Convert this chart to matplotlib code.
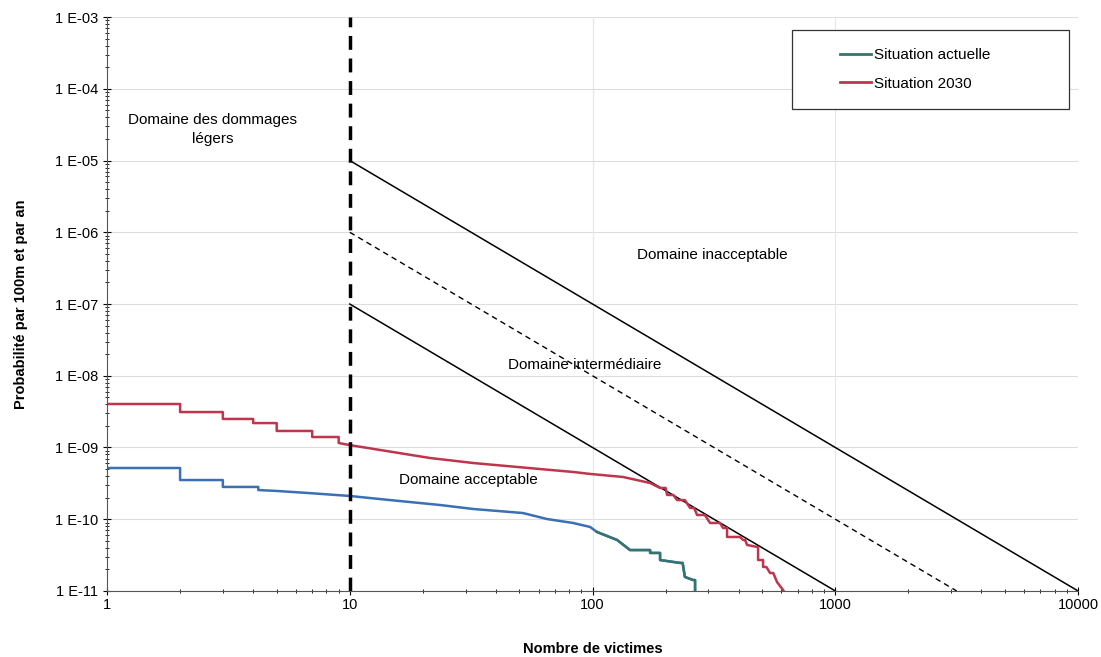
import matplotlib
matplotlib.use("Agg")
import matplotlib.pyplot as plt
from matplotlib.patches import Rectangle
from matplotlib.ticker import FixedLocator, LogLocator, NullFormatter

plt.rcParams['font.family'] = ['Liberation Sans', 'DejaVu Sans']

# courbes F-N : sommets (nombre de victimes, probabilite)
actuelle_x = [1, 2, 2, 3, 3, 4.2, 4.2, 5, 7, 10, 14.65, 23.5, 32.2, 51.7, 64.9, 83.1,
              97.7, 104.3, 126.2, 142.7, 172.6, 172.6, 189.7, 189.7, 229.3, 235,
              240, 259.4, 264.4, 264.4]
actuelle_y = [5.18e-10, 5.18e-10, 3.52e-10, 3.52e-10, 2.82e-10, 2.82e-10, 2.55e-10,
              2.48e-10, 2.3e-10, 2.11e-10, 1.85e-10, 1.58e-10, 1.39e-10, 1.22e-10,
              1.007e-10, 8.87e-11, 7.8e-11, 6.64e-11, 5.14e-11, 3.72e-11, 3.72e-11,
              3.39e-11, 3.39e-11, 2.70e-11, 2.46e-11, 2.46e-11, 1.57e-11, 1.42e-11,
              1.42e-11, 1e-11]

s2030_x = [1, 2, 2, 3, 3, 4, 4, 5, 5, 7, 7, 9, 9, 10, 21.4, 32.2, 60.8, 83.1, 97.7,
           133.6, 172.6, 189.7, 200, 202.8, 215, 222.9, 240, 252.2, 262, 269.5, 290,
           304.8, 335, 344.8, 358.1, 358.1, 405, 416.9, 425, 433, 478, 480.6, 480.6,
           504, 504, 520, 538.5, 555, 575.4, 609.2, 612]
s2030_y = [4.04e-9, 4.04e-9, 3.12e-9, 3.12e-9, 2.50e-9, 2.50e-9, 2.19e-9, 2.19e-9,
           1.70e-9, 1.70e-9, 1.40e-9, 1.40e-9, 1.156e-9, 1.08e-9, 7.14e-10, 6.08e-10,
           5.01e-10, 4.56e-10, 4.28e-10, 3.88e-10, 3.20e-10, 2.73e-10, 2.73e-10,
           2.18e-10, 2.18e-10, 1.85e-10, 1.85e-10, 1.435e-10, 1.435e-10, 1.146e-10,
           1.146e-10, 8.87e-11, 8.87e-11, 7.55e-11, 7.55e-11, 5.66e-11, 5.66e-11,
           5.14e-11, 5.14e-11, 4.38e-11, 4.10e-11, 4.10e-11, 2.70e-11, 2.70e-11,
           2.16e-11, 2.16e-11, 1.78e-11, 1.78e-11, 1.33e-11, 1.03e-11, 1e-11]

# limites des domaines (pente -2)
lim_sup_x = [10, 10000]
lim_sup_y = [1e-5, 1e-11]
lim_mid_x = [10, 3162]
lim_mid_y = [1e-6, 1e-11]
lim_inf_x = [10, 1000]
lim_inf_y = [1e-7, 1e-11]

xticks = [1, 10, 100, 1000, 10000]
xlabels = ["1", "10", "100", "1000", "10000"]
yticks = [1e-11, 1e-10, 1e-9, 1e-8, 1e-7, 1e-6, 1e-5, 1e-4, 1e-3]
ylabels = ["1 E-11", "1 E-10", "1 E-09", "1 E-08", "1 E-07", "1 E-06",
           "1 E-05", "1 E-04", "1 E-03"]

fig = plt.figure(figsize=(11.01, 6.57), dpi=100)
ax = fig.add_axes([0.0972, 0.1005, 0.882, 0.8735])
ax.set_xscale('log')
ax.set_yscale('log')
ax.set_xlim(1, 10000)
ax.set_ylim(1e-11, 1e-3)

for t in yticks:
    ax.axhline(t, color='#dddddd', lw=0.8, zorder=0)
for t in [100, 1000]:
    ax.axvline(t, color='#e6e6e6', lw=0.8, zorder=0)

ax.plot(lim_sup_x, lim_sup_y, color='black', lw=1.1)
ax.plot(lim_mid_x, lim_mid_y, color='black', lw=1.0, ls=(0, (4, 3)))
ax.plot(lim_inf_x, lim_inf_y, color='black', lw=1.1)
ax.plot([10, 10], [1e-11, 1e-3], color='black', lw=2.5, ls=(0, (4, 2.5)), zorder=5)

ax.plot(actuelle_x, actuelle_y, color='#3a70b4', lw=1.8)
n0 = actuelle_x.index(104.3)
ax.plot(actuelle_x[n0:], actuelle_y[n0:], color='#357370', lw=1.8)
ax.plot(s2030_x, s2030_y, color='#c0354e', lw=1.8)

ax.text(2.73, 2.75e-5, "Domaine des dommages\nlégers", ha='center', va='center',
        fontsize=11, linespacing=1.45)
ax.text(310, 4.8e-7, "Domaine inacceptable", ha='center', va='center', fontsize=11)
ax.text(93, 1.41e-8, "Domaine intermédiaire", ha='center', va='center', fontsize=11)
ax.text(30.7, 3.52e-10, "Domaine acceptable", ha='center', va='center', fontsize=11)

ax.xaxis.set_major_locator(FixedLocator(xticks))
ax.set_xticklabels(xlabels)
ax.yaxis.set_major_locator(FixedLocator(yticks))
ax.set_yticklabels(ylabels)
ax.xaxis.set_minor_locator(LogLocator(base=10, subs=range(2, 10)))
ax.yaxis.set_minor_locator(LogLocator(base=10, subs=range(2, 10)))
ax.xaxis.set_minor_formatter(NullFormatter())
ax.yaxis.set_minor_formatter(NullFormatter())
ax.tick_params(which='major', direction='inout', length=6, width=0.8, labelsize=10.5)
ax.tick_params(which='minor', direction='inout', length=3, width=0.6)
ax.tick_params(axis='x', pad=2)
for s in ['top', 'right']:
    ax.spines[s].set_visible(False)
ax.spines['left'].set_color('#555555')
ax.spines['bottom'].set_color('#555555')

ax.set_xlabel("Nombre de victimes", fontsize=10.5, fontweight='bold', labelpad=22)
ax.set_ylabel("Probabilité par 100m et par an", fontsize=10.5, fontweight='bold', labelpad=19)

# legende
box = Rectangle((0.7055, 0.8397), 0.2853, 0.1376, transform=ax.transAxes,
                fill=True, facecolor='white', edgecolor='#333333', lw=0.9, zorder=6)
ax.add_patch(box)
h1, = ax.plot([], [], color='#357370', lw=2)
h2, = ax.plot([], [], color='#c0354e', lw=2)
leg = ax.legend([h1, h2], ["Situation actuelle", "Situation 2030"], frameon=False,
                loc='upper left', bbox_to_anchor=(0.755, 0.946), fontsize=11,
                borderpad=0, borderaxespad=0, handlelength=2.0, handletextpad=0.2,
                labelspacing=0.95)
leg.set_zorder(7)

fig.savefig("out.png", dpi=100)
